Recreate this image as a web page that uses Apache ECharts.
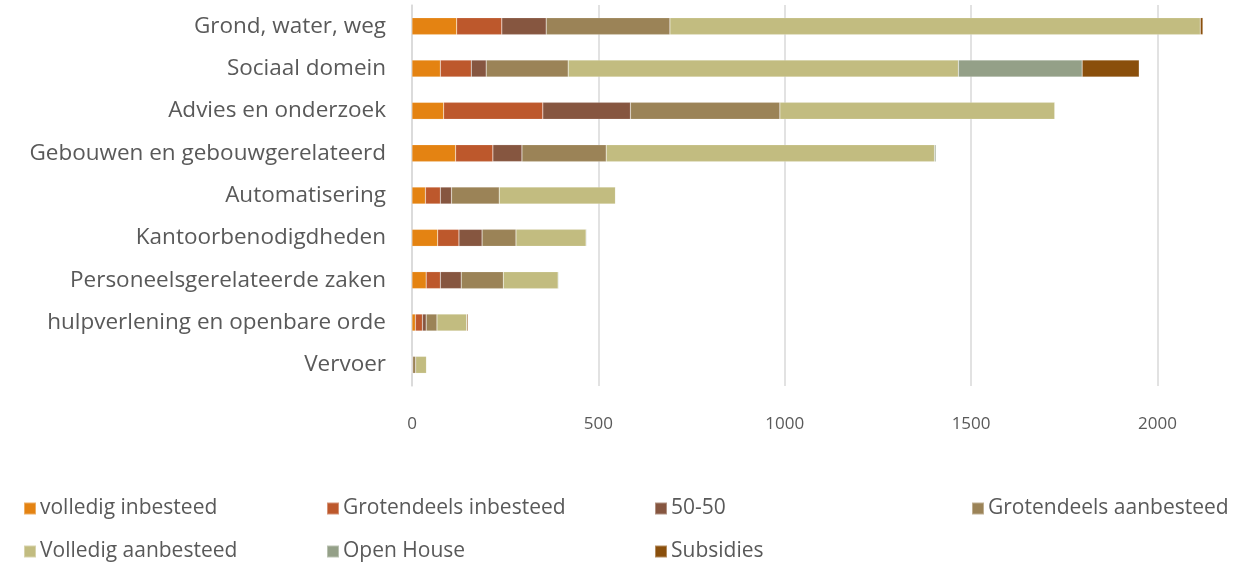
<!DOCTYPE html>
<html>
<head>
<meta charset="utf-8">
<script src="https://cdn.jsdelivr.net/npm/echarts@6/dist/echarts.min.js"></script>
<style>
	html, body { margin: 0; padding: 0; background: #fff; }
	#chart { width: 1235px; height: 563px; }
</style>
</head>
<body>
<div id="chart"></div>
<script>
var categories = ['Grond, water, weg', 'Sociaal domein', 'Advies en onderzoek', 'Gebouwen en gebouwgerelateerd',
	'Automatisering', 'Kantoorbenodigdheden', 'Personeelsgerelateerde zaken', 'hulpverlening en openbare orde', 'Vervoer'];

var seriesNames = ['volledig inbesteed', 'Grotendeels inbesteed', '50-50', 'Grotendeels aanbesteed',
	'Volledig aanbesteed', 'Open House', 'Subsidies'];

var volledigIn = [120, 76, 85, 117, 36, 69, 38, 9, 0];
var grotendeelsIn = [121, 83, 266, 100, 40, 57, 38, 19, 0];
var vijftig = [119, 40, 235, 78, 30, 62, 56, 10, 2];
var grotendeelsAan = [332, 220, 401, 226, 128, 91, 113, 29, 8];
var volledigAan = [1423, 1047, 738, 881, 312, 188, 147, 80, 29];
var openHouse = [0, 332, 0, 4, 0, 2, 2, 0, 0];
var subsidies = [7, 153, 0, 0, 0, 0, 0, 3, 0];

var xTicks = [0, 500, 1000, 1500, 2000];

var colors = ['#E48312', '#BD582C', '#865640', '#9B8357', '#C2BC80', '#94A088', '#8A4F0C'];
var values = [volledigIn, grotendeelsIn, vijftig, grotendeelsAan, volledigAan, openHouse, subsidies];

var chart = echarts.init(document.getElementById('chart'));

var legendPos = [[23, 498], [326, 498], [654, 498], [971, 498], [23, 541], [326, 541], [654, 541]];
var legends = [];
var series = [];
for (var i = 0; i < seriesNames.length; i++) {
	legends.push({
		data: [seriesNames[i]],
		left: legendPos[i][0],
		top: legendPos[i][1],
		icon: 'rect',
		itemWidth: 12,
		itemHeight: 12,
		itemGap: 0,
		textStyle: { fontFamily: 'Open Sans', fontSize: 21, color: '#595959', padding: [0, 0, 0, -1] },
		padding: 0
	});
	series.push({
		name: seriesNames[i],
		type: 'bar',
		stack: 'total',
		barCategoryGap: '60%',
		itemStyle: { color: colors[i], borderColor: 'rgba(255,255,255,0.35)', borderWidth: 0.5 },
		data: values[i]
	});
}

var option = {
	animation: false,
	color: colors,
	grid: { left: 412, right: 3, top: 5, bottom: 177 },
	legend: legends,
	xAxis: {
		type: 'value',
		min: 0,
		max: 2200,
		interval: 500,
		axisLine: { show: false },
		axisTick: { show: false },
		splitLine: { showMaxLine: false, lineStyle: { color: '#d9d9d9', width: 1.5 } },
		axisLabel: {
			margin: 30,
			color: '#595959',
			fontFamily: 'Open Sans',
			fontSize: 17,
			formatter: function (v) { return xTicks.indexOf(v) >= 0 ? String(v) : ''; }
		}
	},
	yAxis: {
		type: 'category',
		inverse: true,
		data: categories,
		axisLine: { show: true, lineStyle: { color: '#d9d9d9', width: 1.5 } },
		axisTick: { show: false },
		axisLabel: {
			margin: 26,
			color: '#595959',
			fontFamily: 'Open Sans',
			fontSize: 22.5
		}
	},
	series: series
};

chart.setOption(option);
</script>
</body>
</html>
